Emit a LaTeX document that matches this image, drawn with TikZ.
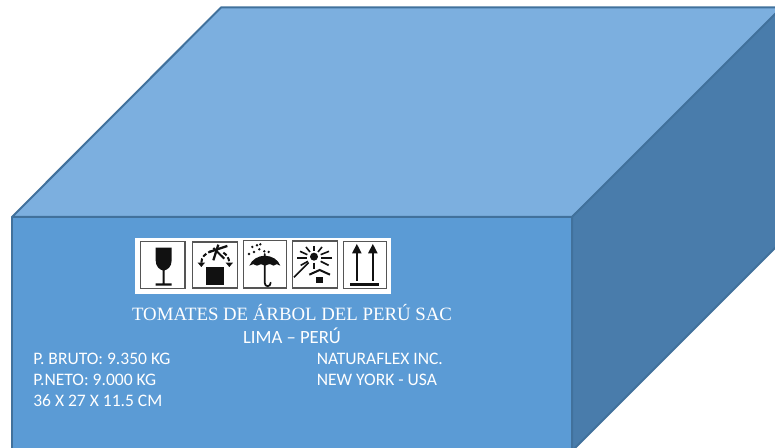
\documentclass[tikz,border=0pt]{standalone}
\usepackage{fontspec}
\setmainfont{Carlito}
\newfontfamily\timesfam{Liberation Serif}
\definecolor{frontc}{HTML}{5B9BD5}
\definecolor{topc}{HTML}{7CAFDF}
\definecolor{sidec}{HTML}{497CAB}
\definecolor{edgec}{HTML}{41719C}
\definecolor{iconc}{HTML}{111111}
\definecolor{framec}{HTML}{555555}
\tikzset{
  facestyle/.style={draw=edgec,line width=1.5pt,line join=bevel},
  labeltext/.style={text=white,inner sep=0pt,anchor=base west,font=\fontsize{13.15pt}{15pt}\selectfont},
  headtext/.style={text=white,inner sep=0pt,anchor=base,font=\timesfam\fontsize{14.1pt}{16pt}\selectfont},
  iconframe/.style={draw=framec,line width=1pt,fill=white},
  inkline/.style={draw=iconc,line width=1.2pt},
}
\begin{document}
\begin{tikzpicture}[x=0.75pt,y=-0.75pt]
\useasboundingbox (0,0) rectangle (775,448);
\clip (0,0) rectangle (775,448);
% box faces
\draw[facestyle,fill=topc] (12,217) -- (221,7.5) -- (790,7.5) -- (572,217) -- cycle;
\draw[facestyle,fill=sidec] (572,217) -- (782,7) -- (790,7) -- (790,233) -- (572,451) -- cycle;
\draw[facestyle,fill=frontc] (12,217) -- (572,217) -- (572,460) -- (12,460) -- cycle;
% label panel
\fill[white] (135,238) rectangle (391,294);
\begin{scope}[shift={(130,232)},x=0.25pt,y=-0.25pt]
  % frames
  \draw[iconframe] (32,28) rectangle (165,170);
  \draw[iconframe] (187,30) rectangle (323,168);
  \draw[iconframe] (340,25) rectangle (470,168);
  \draw[iconframe] (488,27) rectangle (622,168);
  \draw[iconframe] (640,28) rectangle (770,170);
  % 1 glass
  \fill[iconc] (77,47) -- (125,47) -- (125,85) .. controls (125,105) and (112,113) .. (104,115) -- (104,154) -- (125,154) -- (125,161) -- (77,161) -- (77,154) -- (98,154) -- (98,115) .. controls (90,113) and (77,105) .. (77,85) -- cycle;
  % 2 do not tumble
  \fill[iconc] (229,104) rectangle (283,158);
  \draw[iconc,line width=1.7pt] (250,85) -- (265,38);
  \draw[iconc,line width=1.7pt] (238,60) -- (292,42);
  \draw[iconc,line width=1.5pt] (250,48) -- (283,80);
  \draw[iconc,line width=1.5pt,dash pattern=on 3.2pt off 1.6pt] (214,92) .. controls (214,76) and (226,64) .. (242,58);
  \draw[iconc,line width=1.5pt,dash pattern=on 3.2pt off 1.6pt] (280,62) .. controls (290,68) and (297,78) .. (298,92);
  \fill[iconc] (203,92) -- (225,92) -- (214,105) -- cycle;
  \fill[iconc] (287,92) -- (309,92) -- (298,105) -- cycle;
  % 3 umbrella and rain
  \fill[iconc] (358,101) .. controls (366,82) and (384,72) .. (404,71) .. controls (426,72) and (444,82) .. (451,101) .. controls (444,95) and (436,95) .. (430,101) .. controls (422,95) and (412,95) .. (405,101) .. controls (398,95) and (388,95) .. (381,101) .. controls (374,95) and (365,95) .. (358,101) -- cycle;
  \draw[iconc,line width=1.3pt,line cap=round] (404,66) -- (404,152) .. controls (404,166) and (422,166) .. (422,152);
  \foreach \a/\b in {357/66,367/45,381/40,372/60,388/52,391/37,403/58,416/60}{
    \fill[iconc] (\a,\b) circle[radius=4];
  }
  % 4 sun and house
  \fill[iconc] (552,74) circle[radius=12];
  \foreach \a/\b/\c/\d in {552/42/552/56, 528/45/540/60, 576/45/564/60, 510/58/532/68, 597/58/572/68, 502/78/532/78, 606/78/574/78, 512/100/534/88, 596/100/572/88, 492/136/536/92, 552/92/552/112}{
    \draw[inkline] (\a,\b) -- (\c,\d);
  }
  \draw[iconc,line width=1.5pt] (538,128) -- (569,114) -- (600,128);
  \fill[iconc] (559,134) rectangle (579,154);
  % 5 this way up
  \fill[iconc] (660,153) rectangle (746,162);
  \fill[iconc] (677,148) rectangle (684,60);
  \fill[iconc] (725,148) rectangle (732,60);
  \fill[iconc] (680.5,36) -- (695,64) -- (666,64) -- cycle;
  \fill[iconc] (728.5,36) -- (743,64) -- (714,64) -- cycle;
\end{scope}
% texts
\node[headtext] (title) at (292,321) {TOMATES DE ÁRBOL DEL PERÚ SAC};
\node[labeltext,anchor=base,font=\fontsize{14pt}{16pt}\selectfont] (city) at (292,344) {LIMA – PERÚ};
\node[labeltext] (gross) at (33,365) {P. BRUTO: 9.350 KG};
\node[labeltext] (net) at (33,386) {P.NETO: 9.000 KG};
\node[labeltext] (dims) at (33,407) {36 X 27 X 11.5 CM};
\node[labeltext] (buyer) at (316.5,365) {NATURAFLEX INC.};
\node[labeltext] (place) at (316.5,386) {NEW YORK - USA};
\end{tikzpicture}
\end{document}
